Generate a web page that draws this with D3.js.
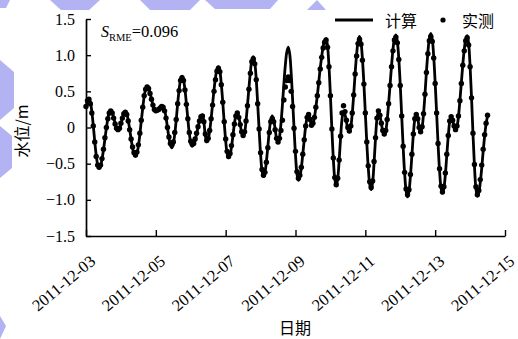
<!DOCTYPE html>
<html><head><meta charset="utf-8">
<script src="https://cdn.jsdelivr.net/npm/d3@7"></script>
<style>html,body{margin:0;padding:0;background:#fff;} svg{display:block}</style>
</head><body>
<svg id="c" width="518" height="339"></svg>
<script>
// ---- data (hourly, starting 2011-12-03 00:00) ----
const startTime = "2011-12-03T00:00";
const computedLevel = [
 0.30, 0.35, 0.40, 0.35, 0.22, 0.03,-0.19,-0.38,-0.51,-0.56,
-0.53,-0.44,-0.31,-0.16,-0.01, 0.12, 0.21, 0.24, 0.21, 0.14,
 0.06,-0.01,-0.04,-0.02, 0.05, 0.13, 0.20, 0.22, 0.19, 0.10,
-0.02,-0.16,-0.28,-0.37,-0.40,-0.36,-0.26,-0.10, 0.09, 0.27,
 0.43, 0.53, 0.57, 0.55, 0.48, 0.40, 0.31, 0.24, 0.22, 0.23,
 0.24, 0.26, 0.27, 0.28, 0.24, 0.14, 0.00,-0.14,-0.24,-0.28,
-0.23,-0.09, 0.10, 0.33, 0.52, 0.66, 0.71, 0.66, 0.53, 0.33,
 0.12,-0.08,-0.21,-0.26,-0.24,-0.18,-0.09, 0.00, 0.09, 0.15,
 0.17, 0.08,-0.11,-0.20,-0.16,-0.05, 0.12, 0.32, 0.52, 0.69,
 0.80, 0.84, 0.78, 0.60, 0.35, 0.07,-0.18,-0.36,-0.42,-0.38,
-0.27,-0.11, 0.05, 0.16, 0.20, 0.15, 0.04,-0.07,-0.12,-0.07,
 0.09, 0.31, 0.55, 0.77, 0.93, 0.98, 0.90, 0.67, 0.33,-0.03,
-0.37,-0.60,-0.68,-0.62,-0.47,-0.26,-0.05, 0.10, 0.16, 0.11,
-0.02,-0.15,-0.20,-0.13, 0.05, 0.31, 0.60, 0.86, 1.04, 1.11,
 1.02, 0.76, 0.39,-0.01,-0.38,-0.64,-0.73,-0.68,-0.56,-0.37,
-0.17, 0.02, 0.14, 0.19, 0.11, 0.03, 0.06, 0.14, 0.28, 0.44,
 0.63, 0.82, 0.98, 1.12, 1.20, 1.23, 1.13, 0.85, 0.44,-0.02,
-0.43,-0.71,-0.81,-0.71,-0.46,-0.14, 0.12, 0.22, 0.18, 0.08,
-0.02,-0.06, 0.01, 0.19, 0.45, 0.75, 1.01, 1.19, 1.26, 1.18,
 0.95, 0.61, 0.20,-0.21,-0.55,-0.78,-0.86,-0.76,-0.49,-0.15,
 0.12, 0.22, 0.17, 0.06,-0.05,-0.10,-0.05, 0.10, 0.33, 0.59,
 0.85, 1.08, 1.23, 1.28, 1.19, 0.95, 0.59, 0.16,-0.27,-0.63,
-0.87,-0.96,-0.88,-0.67,-0.39,-0.10, 0.11, 0.19, 0.13, 0.00,
-0.07, 0.00, 0.19, 0.46, 0.77, 1.04, 1.23, 1.30, 1.22, 0.98,
 0.62, 0.20,-0.23,-0.59,-0.83,-0.91,-0.84,-0.65,-0.38,-0.12,
 0.08, 0.15, 0.10, 0.01,-0.04, 0.01, 0.15, 0.37, 0.62, 0.87,
 1.08, 1.22, 1.27, 1.16, 0.85, 0.41,-0.09,-0.53,-0.84,-0.95,
-0.90,-0.76,-0.56,-0.33,-0.12, 0.05, 0.16
];
const measuredLevel = [
 0.29, 0.37, 0.39, 0.33, 0.20, 0.02,-0.20,-0.40,-0.52,-0.55,
-0.52,-0.43,-0.30,-0.14, 0.00, 0.12, 0.20, 0.23, 0.20, 0.13,
 0.05,-0.01,-0.03,-0.01, 0.06, 0.13, 0.19, 0.21, 0.18, 0.09,
-0.03,-0.16,-0.27,-0.35,-0.38,-0.34,-0.24,-0.08, 0.10, 0.28,
 0.44, 0.53, 0.56, 0.54, 0.47, 0.39, 0.31, 0.25, 0.23, 0.24,
 0.25, 0.27, 0.29, 0.28, 0.23, 0.13, 0.00,-0.13,-0.22,-0.24,
-0.20,-0.07, 0.11, 0.33, 0.51, 0.65, 0.69, 0.65, 0.52, 0.32,
 0.12,-0.07,-0.19,-0.23,-0.22,-0.16,-0.08, 0.01, 0.09, 0.15,
 0.16, 0.08,-0.09,-0.18,-0.15,-0.04, 0.12, 0.31, 0.50, 0.66,
 0.78, 0.82, 0.77, 0.59, 0.35, 0.08,-0.16,-0.33,-0.40,-0.36,
-0.25,-0.10, 0.05, 0.16, 0.20, 0.14, 0.04,-0.06,-0.11,-0.06,
 0.09, 0.30, 0.53, 0.75, 0.91, 0.95, 0.88, 0.66, 0.33,-0.02,
-0.35,-0.58,-0.66,-0.62,-0.48,-0.28,-0.07, 0.08, 0.12, 0.08,
-0.03,-0.15,-0.20,-0.15,-0.04, 0.10, 0.38, 0.56, 0.65, 0.70,
 0.65, 0.50, 0.29,-0.01,-0.33,-0.61,-0.70,-0.66,-0.55,-0.37,
-0.17, 0.02, 0.14, 0.18, 0.11, 0.03, 0.06, 0.14, 0.28, 0.44,
 0.62, 0.81, 0.97, 1.10, 1.18, 1.21, 1.11, 0.84, 0.44,-0.02,
-0.42,-0.69,-0.79,-0.70,-0.45,-0.12, 0.20, 0.30, 0.22, 0.10,
 0.00,-0.05, 0.02, 0.20, 0.45, 0.74, 0.99, 1.16, 1.22, 1.15,
 0.93, 0.60, 0.20,-0.20,-0.53,-0.75,-0.83,-0.74,-0.47,-0.14,
 0.13, 0.23, 0.17, 0.06,-0.04,-0.09,-0.04, 0.11, 0.33, 0.58,
 0.84, 1.06, 1.21, 1.25, 1.17, 0.94, 0.58, 0.16,-0.26,-0.62,
-0.85,-0.93,-0.86,-0.65,-0.37,-0.09, 0.12, 0.18, 0.12, 0.00,
-0.06, 0.01, 0.19, 0.46, 0.76, 1.02, 1.20, 1.26, 1.19, 0.96,
 0.61, 0.20,-0.22,-0.57,-0.81,-0.89,-0.82,-0.63,-0.37,-0.11,
 0.09, 0.15, 0.10, 0.02,-0.03, 0.02, 0.16, 0.37, 0.61, 0.86,
 1.06, 1.20, 1.24, 1.14, 0.84, 0.41,-0.08,-0.51,-0.82,-0.93,
-0.87,-0.72,-0.52,-0.30,-0.10, 0.06, 0.17
];
const xTickLabels = ["2011-12-03","2011-12-05","2011-12-07","2011-12-09","2011-12-11","2011-12-13","2011-12-15"];
const yTicks = [-1.5, -1, -0.5, 0, 0.5, 1, 1.5];
const yTickLabels = ["\u22121.5","\u22121.0","\u22120.5","0","0.5","1.0","1.5"];
const seriesNames = ["计算", "实测"];
const rmseText = "=0.096";

// ---- drawing ----
const serif = '"Liberation Serif","Times New Roman",serif';
const cjk = '"Noto Sans CJK SC","Noto Sans CJK JP",sans-serif';
const svg = d3.select("#c");

// light watermark decoration
const wm = svg.append("g").attr("fill", "#b3b3f3");
[
  [[0,0],[10,0],[6,8],[0,8]],
  [[50,0],[100,0],[89,10],[61,10]],
  [[140,0],[200,0],[190,10],[150,10]],
  [[205,0],[278,0],[270,9],[215,9]],
  [[307,10],[326,10],[317,0]],
  [[0,60],[14,72],[14,108],[0,120]],
  [[0,126],[12,136],[12,168],[0,178]],
  [[0,316],[6,326],[0,339]]
].forEach(p => wm.append("polygon").attr("points", p.map(q => q.join(",")).join(" ")));

const parseDay = d3.timeParse("%Y-%m-%d");
const t0 = d3.timeParse("%Y-%m-%dT%H:%M")(startTime);
const hourTime = i => d3.timeHour.offset(t0, i);

const x = d3.scaleTime()
  .domain([parseDay(xTickLabels[0]), parseDay(xTickLabels[xTickLabels.length - 1])])
  .range([86, 505]);
const y = d3.scaleLinear().domain([-1.5, 1.5]).range([236, 19]);

// axes
const yAxis = d3.axisLeft(y)
  .tickValues(yTicks)
  .tickFormat(d => yTickLabels[yTicks.indexOf(d)])
  .tickSizeInner(-5).tickSizeOuter(0).tickPadding(11);
const gy = svg.append("g").attr("transform", "translate(86,0)").call(yAxis);

const xAxis = d3.axisBottom(x)
  .tickValues(xTickLabels.map(parseDay))
  .tickFormat(d3.timeFormat("%Y-%m-%d"))
  .tickSizeInner(-6).tickSizeOuter(0);
const gx = svg.append("g").attr("transform", "translate(0,236)").call(xAxis);

[gx, gy].forEach(g => {
  g.selectAll(".domain").attr("stroke", "#000").attr("stroke-width", 1.7);
  g.selectAll(".tick line").attr("stroke", "#000").attr("stroke-width", 1.4);
  g.selectAll(".tick text").attr("fill", "#000")
    .style("font-family", serif).style("font-size", "16px");
});
gx.selectAll(".tick text")
  .attr("x", 0).attr("y", 0).attr("dy", 0)
  .attr("text-anchor", "end")
  .style("font-size", "16.5px")
  .attr("transform", "translate(10,27) rotate(-40)");

// computed line
const line = d3.line()
  .x((d, i) => x(hourTime(i)))
  .y(d => y(d))
  .curve(d3.curveCatmullRom);
svg.append("path").datum(computedLevel)
  .attr("d", line).attr("fill", "none")
  .attr("stroke", "#000").attr("stroke-width", 2.8)
  .attr("stroke-linejoin", "round");

// measured points
svg.append("g").selectAll("circle").data(measuredLevel).join("circle")
  .attr("cx", (d, i) => x(hourTime(i)))
  .attr("cy", d => y(d))
  .attr("r", 2.7).attr("fill", "#000");

// annotation S_RME
const ann = svg.append("text").attr("x", 101).attr("y", 37)
  .style("font-family", serif).style("font-size", "16px").attr("fill", "#000");
ann.append("tspan").style("font-style", "italic").text("S");
ann.append("tspan").attr("dy", 4).style("font-size", "10.5px").text("RME");
ann.append("tspan").attr("dy", -4).style("font-size", "16.5px").text(rmseText);

// legend
svg.append("line").attr("x1", 335).attr("x2", 373).attr("y1", 20).attr("y2", 20)
  .attr("stroke", "#000").attr("stroke-width", 2.8);
svg.append("text").attr("x", 385).attr("y", 27)
  .style("font-family", cjk).style("font-size", "16px").text(seriesNames[0]);
svg.append("circle").attr("cx", 443).attr("cy", 20).attr("r", 2.6).attr("fill", "#000");
svg.append("text").attr("x", 462).attr("y", 27)
  .style("font-family", cjk).style("font-size", "16px").text(seriesNames[1]);

// axis titles
svg.append("text").attr("transform", "translate(28,131) rotate(-90)")
  .attr("text-anchor", "middle")
  .style("font-family", cjk).style("font-size", "16px").text("水位/m");
svg.append("text").attr("x", 295).attr("y", 334).attr("text-anchor", "middle")
  .style("font-family", cjk).style("font-size", "16px").text("日期");
</script>
</body></html>
